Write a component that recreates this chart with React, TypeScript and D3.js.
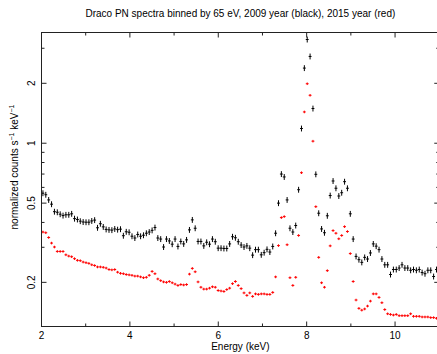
import React from "react";
import * as d3 from "d3";

const energies = [
  2.0325, 2.0975, 2.1625, 2.2275, 2.2925, 2.3575, 2.4225, 2.4875, 2.5525, 2.6175,
  2.6825, 2.7475, 2.8125, 2.8775, 2.9425, 3.0075, 3.0725, 3.1375, 3.2025, 3.2675,
  3.3325, 3.3975, 3.4625, 3.5275, 3.5925, 3.6575, 3.7225, 3.7875, 3.8525, 3.9175,
  3.9825, 4.0475, 4.1125, 4.1775, 4.2425, 4.3075, 4.3725, 4.4375, 4.5025, 4.5675,
  4.6325, 4.6975, 4.7625, 4.8275, 4.8925, 4.9575, 5.0225, 5.0875, 5.1525, 5.2175,
  5.2825, 5.3475, 5.4125, 5.4775, 5.5425, 5.6075, 5.6725, 5.7375, 5.8025, 5.8675,
  5.9325, 5.9975, 6.0625, 6.1275, 6.1925, 6.2575, 6.3225, 6.3875, 6.4525, 6.5175,
  6.5825, 6.6475, 6.7125, 6.7775, 6.8425, 6.9075, 6.9725, 7.0375, 7.1025, 7.1675,
  7.2325, 7.2975, 7.3625, 7.4275, 7.4925, 7.5575, 7.6225, 7.6875, 7.7525, 7.8175,
  7.8825, 7.9475, 8.0125, 8.0775, 8.1425, 8.2075, 8.2725, 8.3375, 8.4025, 8.4675,
  8.5325, 8.5975, 8.6625, 8.7275, 8.7925, 8.8575, 8.9225, 8.9875, 9.0525, 9.1175,
  9.1825, 9.2475, 9.3125, 9.3775, 9.4425, 9.5075, 9.5725, 9.6375, 9.7025, 9.7675,
  9.8325, 9.8975, 9.9625, 10.0275, 10.0925, 10.1575, 10.2225, 10.2875, 10.3525, 10.4175,
  10.4825, 10.5475, 10.6125, 10.6775, 10.7425, 10.8075, 10.8725, 10.9375,
];

const counts2009 = [
  0.561, 0.551, 0.519, 0.494, 0.453, 0.450, 0.440, 0.433, 0.437, 0.437,
  0.442, 0.418, 0.414, 0.406, 0.402, 0.401, 0.401, 0.407, 0.411, 0.376,
  0.394, 0.380, 0.369, 0.367, 0.366, 0.371, 0.368, 0.370, 0.343, 0.359,
  0.357, 0.341, 0.334, 0.348, 0.341, 0.345, 0.353, 0.358, 0.365, 0.377,
  0.334, 0.330, 0.301, 0.330, 0.323, 0.311, 0.330, 0.303, 0.321, 0.312,
  0.327, 0.367, 0.412, 0.374, 0.321, 0.321, 0.305, 0.318, 0.311, 0.330,
  0.320, 0.297, 0.297, 0.296, 0.296, 0.312, 0.339, 0.335, 0.320, 0.308,
  0.301, 0.305, 0.297, 0.274, 0.292, 0.292, 0.275, 0.282, 0.293, 0.284,
  0.303, 0.353, 0.500, 0.700, 0.677, 0.519, 0.374, 0.358, 0.386, 0.584,
  1.186, 2.385, 3.320, 2.729, 1.494, 0.698, 0.445, 0.371, 0.355, 0.432,
  0.546, 0.646, 0.594, 0.543, 0.564, 0.641, 0.594, 0.442, 0.330, 0.270,
  0.260, 0.252, 0.267, 0.262, 0.281, 0.312, 0.304, 0.292, 0.262, 0.245,
  0.245, 0.219, 0.232, 0.232, 0.236, 0.245, 0.236, 0.236, 0.230, 0.232,
  0.230, 0.232, 0.224, 0.221, 0.230, 0.230, 0.214, 0.232,
];

const counts2015 = [
  0.358, 0.355, 0.336, 0.315, 0.301, 0.286, 0.286, 0.286, 0.275, 0.271,
  0.269, 0.263, 0.258, 0.257, 0.253, 0.251, 0.249, 0.245, 0.243, 0.239,
  0.239, 0.238, 0.236, 0.232, 0.231, 0.232, 0.225, 0.222, 0.221, 0.219,
  0.218, 0.217, 0.215, 0.215, 0.213, 0.211, 0.212, 0.217, 0.227, 0.221,
  0.208, 0.204, 0.201, 0.200, 0.202, 0.199, 0.196, 0.193, 0.195, 0.194,
  0.195, 0.220, 0.235, 0.226, 0.201, 0.189, 0.185, 0.185, 0.187, 0.190,
  0.189, 0.182, 0.181, 0.180, 0.184, 0.187, 0.197, 0.202, 0.193, 0.186,
  0.177, 0.172, 0.177, 0.170, 0.175, 0.174, 0.175, 0.175, 0.174, 0.174,
  0.178, 0.213, 0.306, 0.423, 0.428, 0.309, 0.211, 0.193, 0.212, 0.344,
  0.711, 1.436, 1.990, 1.741, 1.024, 0.480, 0.267, 0.199, 0.189, 0.229,
  0.305, 0.364, 0.353, 0.331, 0.344, 0.381, 0.360, 0.279, 0.202, 0.163,
  0.148, 0.145, 0.147, 0.152, 0.161, 0.175, 0.175, 0.168, 0.158, 0.146,
  0.139, 0.138, 0.137, 0.138, 0.136, 0.136, 0.136, 0.136, 0.139, 0.135,
  0.135, 0.135, 0.134, 0.134, 0.134, 0.133, 0.133, 0.132,
];

const halfBinKeV = 0.0325;
const relErr2009 = 0.034;
const relErr2015 = 0.015;

const xMajorTicks = [2, 4, 6, 8, 10];
const xMinorTicks = [3, 5, 7, 9];
const yMajorTicks = [0.2, 0.5, 1, 2];
const yMajorLabels = ["0.2", "0.5", "1", "2"];
const yMinorTicks = [0.3, 0.4, 0.6, 0.7, 0.8, 0.9, 3];

const titleText = "Draco PN spectra binned by 65 eV, 2009 year (black), 2015 year (red)";
const xLabel = "Energy (keV)";

const FONT = "'Liberation Sans', Arial, Helvetica, sans-serif";

export default function App() {
  const W = 437;
  const H = 354;
  const left = 41.5;
  const right = 439.25;
  const top = 32.5;
  const bottom = 326.5;

  const x = d3.scaleLinear().domain([2, 11]).range([left, right]);
  const y = d3.scaleLog().domain([0.12, 3.6]).range([bottom, top]);

  const crossPath = (vals: number[], err: number) => {
    const p = d3.path();
    vals.forEach((v, i) => {
      const e = energies[i];
      const yy = y(v);
      p.moveTo(x(e - halfBinKeV), yy);
      p.lineTo(x(e + halfBinKeV), yy);
      p.moveTo(x(e), y(v * (1 - err)));
      p.lineTo(x(e), y(v * (1 + err)));
    });
    return p.toString();
  };

  const tickColor = "#222";

  return (
    <svg
      width={W}
      height={H}
      style={{ position: "fixed", left: 0, top: 0, background: "#fff" }}
      fontFamily={FONT}
    >
      <rect x={0} y={0} width={W} height={H} fill="#fff" />
      <defs>
        <clipPath id="plotclip">
          <rect x={left} y={top} width={right - left} height={bottom - top} />
        </clipPath>
      </defs>

      <text x={(left + right) / 2} y={17} fontSize={10} textAnchor="middle" fill="#000">
        {titleText}
      </text>

      <g clipPath="url(#plotclip)">
        <path d={crossPath(counts2015, relErr2015)} stroke="#ff0000" strokeWidth={1} fill="none" />
        <path d={crossPath(counts2009, relErr2009)} stroke="#000" strokeWidth={1} fill="none" />
      </g>

      {/* frame */}
      <rect x={left} y={top} width={right - left} height={bottom - top} fill="none" stroke={tickColor} strokeWidth={1} />

      {/* x ticks */}
      {xMajorTicks.map((t) => (
        <g key={"xM" + t}>
          <line x1={x(t)} x2={x(t)} y1={bottom} y2={bottom - 5} stroke={tickColor} />
          <line x1={x(t)} x2={x(t)} y1={top} y2={top + 5} stroke={tickColor} />
          <text x={x(t)} y={339} fontSize={10} textAnchor="middle" fill="#000">
            {t}
          </text>
        </g>
      ))}
      {xMinorTicks.map((t) => (
        <g key={"xm" + t}>
          <line x1={x(t)} x2={x(t)} y1={bottom} y2={bottom - 3} stroke={tickColor} />
          <line x1={x(t)} x2={x(t)} y1={top} y2={top + 3} stroke={tickColor} />
        </g>
      ))}

      {/* y ticks */}
      {yMajorTicks.map((t, i) => (
        <g key={"yM" + t}>
          <line x1={left} x2={left + 5} y1={y(t)} y2={y(t)} stroke={tickColor} />
          <line x1={right} x2={right - 5} y1={y(t)} y2={y(t)} stroke={tickColor} />
          <text
            transform={`translate(${35},${y(t)}) rotate(-90)`}
            fontSize={10}
            textAnchor="middle"
            fill="#000"
          >
            {yMajorLabels[i]}
          </text>
        </g>
      ))}
      {yMinorTicks.map((t) => (
        <g key={"ym" + t}>
          <line x1={left} x2={left + 3} y1={y(t)} y2={y(t)} stroke={tickColor} />
          <line x1={right} x2={right - 3} y1={y(t)} y2={y(t)} stroke={tickColor} />
        </g>
      ))}

      <text x={(left + right) / 2} y={350} fontSize={10} textAnchor="middle" fill="#000">
        {xLabel}
      </text>

      <text transform={`translate(18,167) rotate(-90)`} fontSize={10} textAnchor="middle" fill="#000">
        normalized counts s
        <tspan fontSize={7} dy={-4}>−1</tspan>
        <tspan dy={4}> keV</tspan>
        <tspan fontSize={7} dy={-4}>−1</tspan>
      </text>
    </svg>
  );
}
